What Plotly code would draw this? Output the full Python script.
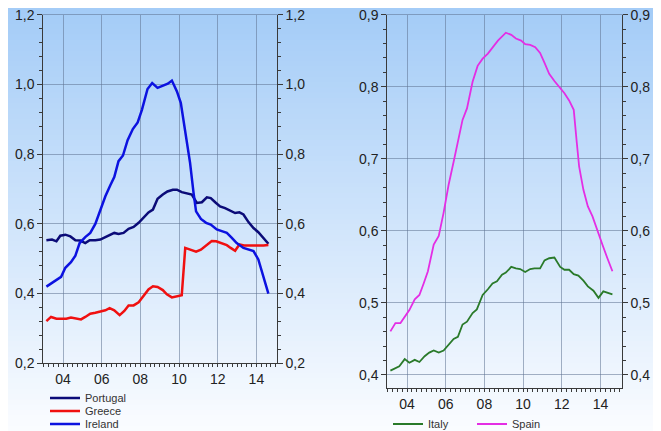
import plotly.graph_objects as go

# ---------------- data ----------------
ireland_x = [2003.14, 2003.52, 2003.9, 2004.12, 2004.41, 2004.64, 2004.86, 2005.15, 2005.41, 2005.67,
             2005.93, 2006.19, 2006.44, 2006.65, 2006.87, 2007.1, 2007.34, 2007.61, 2007.86, 2008.08,
             2008.37, 2008.61, 2008.89, 2009.2, 2009.42, 2009.63, 2009.89, 2010.09, 2010.32, 2010.57,
             2010.75, 2010.88, 2011.13, 2011.4, 2011.64, 2011.95, 2012.21, 2012.47, 2012.73, 2012.98,
             2013.33, 2013.59, 2013.85, 2014.1, 2014.36, 2014.62]
ireland_y = [0.42, 0.435, 0.448, 0.474, 0.49, 0.509, 0.545, 0.562, 0.574, 0.60,
             0.641, 0.679, 0.71, 0.734, 0.78, 0.796, 0.84, 0.872, 0.891, 0.927,
             0.987, 1.004, 0.99, 0.996, 1.002, 1.011, 0.98, 0.947, 0.861, 0.775,
             0.689, 0.636, 0.614, 0.603, 0.598, 0.584, 0.579, 0.574, 0.56, 0.545,
             0.531, 0.526, 0.522, 0.498, 0.45, 0.40]

portugal_x = [2003.14, 2003.43, 2003.66, 2003.86, 2004.12, 2004.38, 2004.64, 2004.9, 2005.15, 2005.38,
              2005.67, 2005.93, 2006.19, 2006.44, 2006.65, 2006.87, 2007.13, 2007.39, 2007.65, 2007.91,
              2008.17, 2008.42, 2008.65, 2008.89, 2009.16, 2009.4, 2009.68, 2009.89, 2010.14, 2010.4,
              2010.66, 2010.92, 2011.18, 2011.44, 2011.64, 2011.87, 2012.12, 2012.38, 2012.64, 2012.9,
              2013.12, 2013.33, 2013.59, 2013.85, 2014.1, 2014.36, 2014.62]
portugal_y = [0.553, 0.555, 0.55, 0.566, 0.569, 0.564, 0.553, 0.552, 0.545, 0.553,
              0.553, 0.555, 0.562, 0.569, 0.574, 0.571, 0.574, 0.586, 0.591, 0.603,
              0.62, 0.633, 0.641, 0.672, 0.684, 0.693, 0.698, 0.698, 0.691, 0.687,
              0.684, 0.66, 0.662, 0.676, 0.674, 0.662, 0.65, 0.645, 0.639, 0.631,
              0.633, 0.627, 0.605, 0.588, 0.576, 0.56, 0.543]

greece_x = [2003.14, 2003.38, 2003.66, 2003.9, 2004.17, 2004.41, 2004.69, 2004.93, 2005.15, 2005.41,
            2005.67, 2005.93, 2006.19, 2006.41, 2006.65, 2006.93, 2007.17, 2007.39, 2007.65, 2007.91,
            2008.17, 2008.42, 2008.65, 2008.89, 2009.16, 2009.37, 2009.63, 2009.89, 2010.14, 2010.32,
            2010.57, 2010.88, 2011.13, 2011.4, 2011.69, 2011.92, 2012.21, 2012.47, 2012.67, 2012.9,
            2013.12, 2013.36, 2013.64, 2013.88, 2014.1, 2014.36, 2014.62]
greece_y = [0.321, 0.333, 0.328, 0.328, 0.328, 0.331, 0.328, 0.326, 0.333, 0.342,
            0.345, 0.349, 0.352, 0.358, 0.352, 0.338, 0.35, 0.366, 0.366, 0.375,
            0.393, 0.412, 0.421, 0.419, 0.41, 0.398, 0.389, 0.393, 0.395, 0.531,
            0.526, 0.52, 0.526, 0.538, 0.551, 0.55, 0.545, 0.539, 0.531, 0.523,
            0.541, 0.538, 0.538, 0.538, 0.536, 0.538, 0.539]

spain_x = [2003.14, 2003.4, 2003.66, 2003.88, 2004.12, 2004.4, 2004.64, 2004.86, 2005.08, 2005.38,
           2005.64, 2005.89, 2006.15, 2006.41, 2006.67, 2006.87, 2007.1, 2007.39, 2007.65, 2007.91,
           2008.18, 2008.42, 2008.7, 2009.11, 2009.39, 2009.63, 2009.9, 2010.11, 2010.37, 2010.63,
           2010.88, 2011.11, 2011.35, 2011.62, 2011.87, 2012.14, 2012.38, 2012.62, 2012.78, 2012.9,
           2013.12, 2013.35, 2013.59, 2013.86, 2014.1, 2014.36, 2014.62]
spain_y = [0.4605, 0.472, 0.472, 0.481, 0.49, 0.505, 0.511, 0.527, 0.544, 0.581,
           0.593, 0.625, 0.664, 0.696, 0.731, 0.754, 0.77, 0.807, 0.829, 0.839,
           0.846, 0.855, 0.864, 0.875, 0.872, 0.867, 0.864, 0.859, 0.858, 0.855,
           0.847, 0.833, 0.818, 0.808, 0.80, 0.791, 0.781, 0.768, 0.722, 0.689,
           0.657, 0.634, 0.62, 0.598, 0.581, 0.562, 0.544]

italy_x = [2003.14, 2003.36, 2003.6, 2003.88, 2004.12, 2004.4, 2004.64, 2004.91, 2005.15, 2005.38,
           2005.64, 2005.89, 2006.15, 2006.41, 2006.63, 2006.87, 2007.1, 2007.39, 2007.61, 2007.91,
           2008.18, 2008.42, 2008.65, 2008.91, 2009.11, 2009.39, 2009.63, 2009.85, 2010.11, 2010.37,
           2010.59, 2010.88, 2011.11, 2011.35, 2011.62, 2011.92, 2012.14, 2012.38, 2012.62, 2012.86,
           2013.12, 2013.35, 2013.64, 2013.9, 2014.15, 2014.41, 2014.62]
italy_y = [0.406, 0.409, 0.412, 0.422, 0.417, 0.421, 0.418, 0.426, 0.431, 0.434,
           0.431, 0.434, 0.442, 0.45, 0.453, 0.47, 0.474, 0.486, 0.491, 0.511,
           0.519, 0.527, 0.53, 0.539, 0.542, 0.55, 0.548, 0.547, 0.543, 0.547,
           0.548, 0.548, 0.559, 0.562, 0.563, 0.55, 0.546, 0.546, 0.54, 0.538,
           0.531, 0.523, 0.517, 0.507, 0.516, 0.514, 0.512]

tick_years = [2004, 2006, 2008, 2010, 2012, 2014]
tick_labels = ["04", "06", "08", "10", "12", "14"]

# ---------------- figure ----------------
FONT = "Arial, Liberation Sans, sans-serif"
GRID = "rgba(95,115,145,0.55)"
AXC = "#3a3a3a"

# page has an 8px body margin: the figure is sized to the remaining window
OFF = 8
W, H = 661 - OFF, 431 - OFF


def px(x):
    return (x - OFF) / W


def py(y):
    return 1 - (y - OFF) / H


fig = go.Figure()

fig.add_trace(go.Scatter(x=portugal_x, y=portugal_y, name="Portugal", mode="lines",
                         line=dict(color="#0b0b78", width=2.5), xaxis="x", yaxis="y", legend="legend"))
fig.add_trace(go.Scatter(x=greece_x, y=greece_y, name="Greece", mode="lines",
                         line=dict(color="#f01010", width=2.5), xaxis="x", yaxis="y", legend="legend2"))
fig.add_trace(go.Scatter(x=ireland_x, y=ireland_y, name="Ireland", mode="lines",
                         line=dict(color="#0c12e0", width=2.5), xaxis="x", yaxis="y", legend="legend3"))
fig.add_trace(go.Scatter(x=italy_x, y=italy_y, name="Italy", mode="lines",
                         line=dict(color="#2a7a2a", width=1.8), xaxis="x3", yaxis="y3", legend="legend4"))
fig.add_trace(go.Scatter(x=spain_x, y=spain_y, name="Spain", mode="lines",
                         line=dict(color="#e42ee4", width=1.8), xaxis="x3", yaxis="y3", legend="legend5"))
# empty carriers so the mirrored right-hand value axes and top frame lines get drawn
fig.add_trace(go.Scatter(x=[], y=[], xaxis="x2", yaxis="y2", showlegend=False, hoverinfo="skip"))
fig.add_trace(go.Scatter(x=[], y=[], xaxis="x4", yaxis="y4", showlegend=False, hoverinfo="skip"))

# background gradient bands
top = (164, 204, 247)
bot = (250, 252, 255)
n = 80
shapes = []
for i in range(n):
    t = i / (n - 1)
    c = tuple(int(round(top[k] + (bot[k] - top[k]) * t)) for k in range(3))
    shapes.append(dict(type="rect", xref="paper", yref="paper", x0=0, x1=1,
                       y0=1 - (i + 1) / n - 0.002, y1=1 - i / n, layer="below",
                       line=dict(width=0), fillcolor="rgb(%d,%d,%d)" % c))

tickfont = dict(family=FONT, size=14, color="#222")


def xax(domain, anchor, rng):
    return dict(domain=domain, anchor=anchor, range=rng, tickmode="array", automargin=False,
                tickvals=tick_years, ticktext=tick_labels, showgrid=True, gridcolor=GRID,
                gridwidth=1, showline=True, linecolor=AXC, linewidth=1, ticks="outside",
                ticklen=3, tickcolor=AXC, zeroline=False, tickfont=tickfont,
                ticklabeloverflow="allow",
                minor=dict(tickmode="linear", tick0=2003, dtick=0.25, ticks="outside",
                           ticklen=3, tickcolor=AXC, showgrid=False))


def xtop(overlay, anchor, rng):
    # top frame line in gridline colour
    return dict(overlaying=overlay, anchor=anchor, side="top", range=rng, showline=True,
                linecolor=GRID, linewidth=1, showgrid=False, showticklabels=False, ticks="",
                zeroline=False, automargin=False)


def yax(domain, anchor, rng, dtick, mdtick, side="left", overlay=None):
    d = dict(domain=domain, anchor=anchor, range=rng, tickmode="linear", tick0=0, dtick=dtick,
             tickformat=".1f", showline=True, linecolor=AXC, linewidth=1, ticks="outside",
             ticklen=5, tickcolor=AXC, zeroline=False, tickfont=tickfont, side=side,
             automargin=False, ticklabeloverflow="allow",
             showgrid=overlay is None, gridcolor=GRID, gridwidth=1,
             minor=dict(tickmode="linear", tick0=0, dtick=mdtick, ticks="outside", ticklen=3,
                        tickcolor=AXC, showgrid=False))
    if overlay:
        d["overlaying"] = overlay
    return d


ld = [py(363.3), py(14.7)]
rd = [py(388.3), py(14.7)]
lx = [px(43.3), px(276.7)]
rx = [px(387.3), px(621.7)]
lxr = [2002.98, 2015.05]
rxr = [2002.98, 2015.1]

legfont = dict(family=FONT, size=11, color="#333")


def leg(x, y):
    return dict(x=px(x), y=py(y), xanchor="left", yanchor="middle", bgcolor="rgba(0,0,0,0)",
                borderwidth=0, font=legfont, orientation="v", itemwidth=30)


fig.update_layout(
    width=W, height=H, margin=dict(l=0, r=0, t=0, b=0, pad=0, autoexpand=False),
    paper_bgcolor="white", plot_bgcolor="rgba(0,0,0,0)",
    separators=", ",
    shapes=shapes,
    xaxis=xax(lx, "y", lxr),
    xaxis2=xtop("x", "y", lxr),
    yaxis=yax(ld, "x", [0.2, 1.2], 0.2, 0.04),
    yaxis2=yax(ld, "x", [0.2, 1.2], 0.2, 0.04, side="right", overlay="y"),
    xaxis3=xax(rx, "y3", rxr),
    xaxis4=xtop("x3", "y3", rxr),
    yaxis3=yax(rd, "x3", [0.3815, 0.9], 0.1, 0.02),
    yaxis4=yax(rd, "x3", [0.3815, 0.9], 0.1, 0.02, side="right", overlay="y3"),
    legend=leg(45, 398),
    legend2=leg(45, 411),
    legend3=leg(45, 424),
    legend4=leg(388, 424),
    legend5=leg(472, 424),
    showlegend=True,
)

fig.write_html("out.html")
